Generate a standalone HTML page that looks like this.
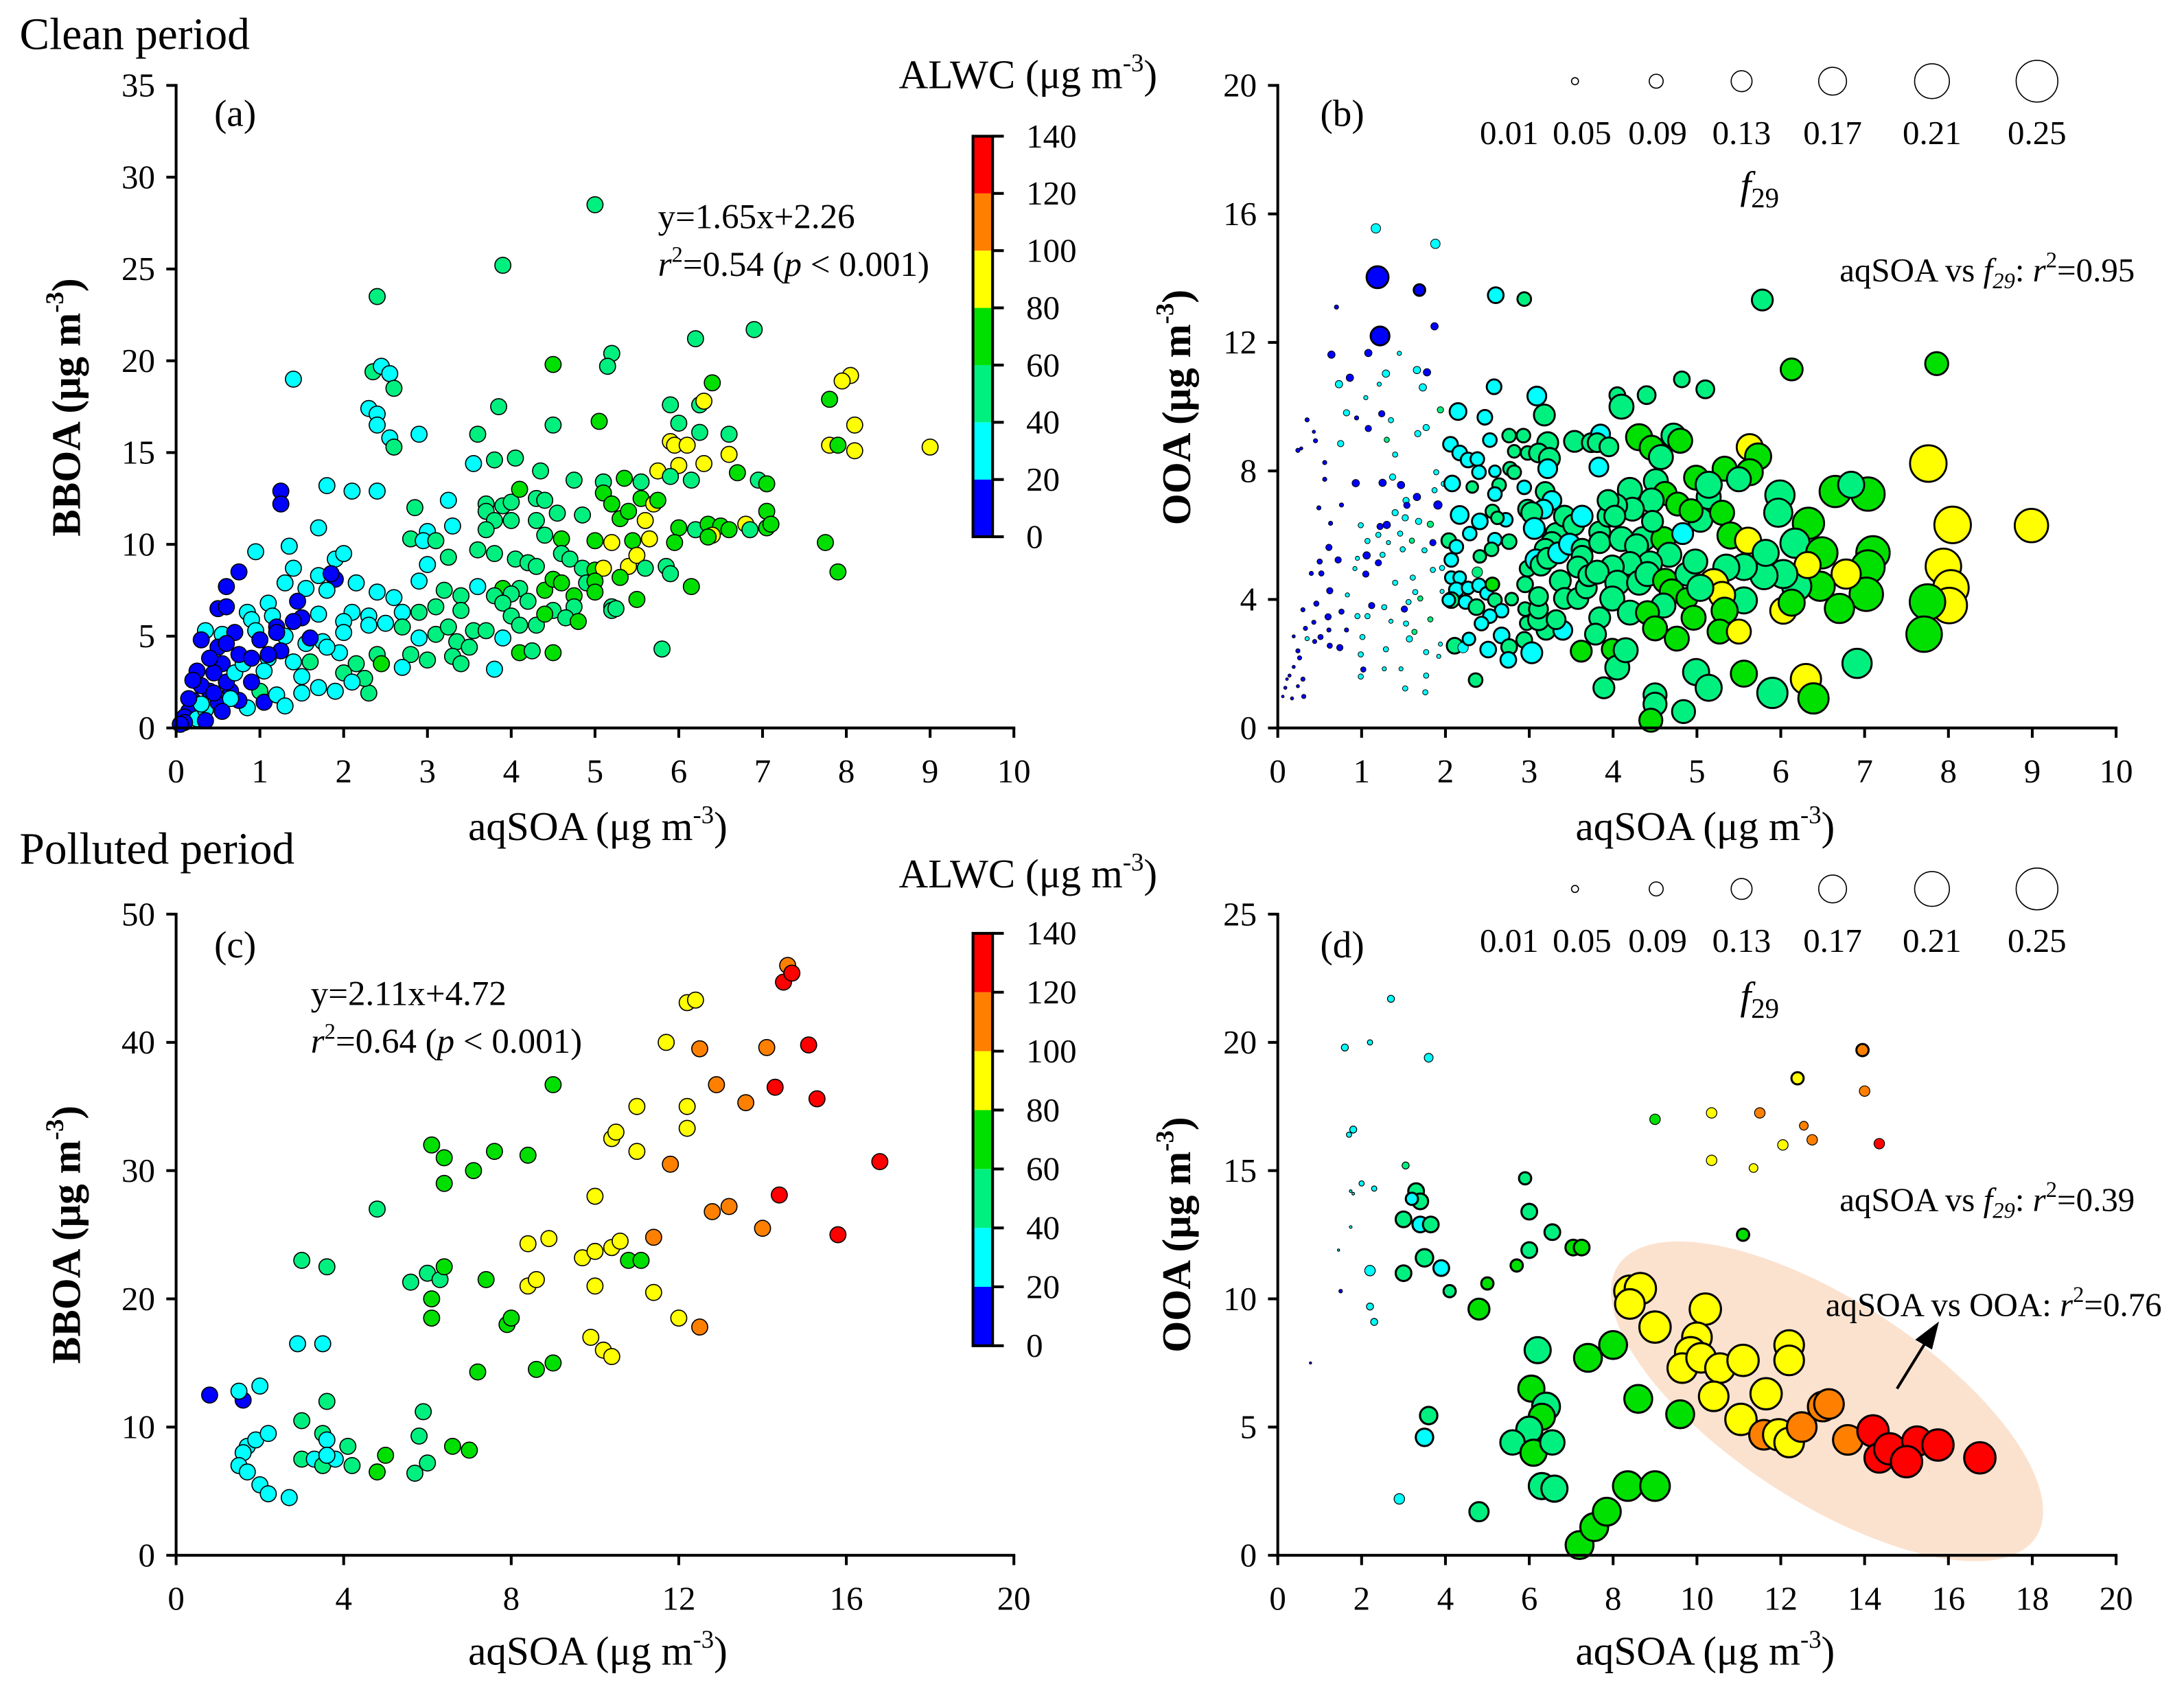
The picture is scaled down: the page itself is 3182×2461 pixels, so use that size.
<!DOCTYPE html>
<html><head><meta charset="utf-8">
<style>
html,body{margin:0;padding:0;background:#fff;}
svg{display:block;}
text{font-family:"Liberation Serif","Times New Roman",serif;fill:#000;}
</style></head>
<body>
<svg id="chart" xmlns="http://www.w3.org/2000/svg" width="3182" height="2461" viewBox="0 0 1560 1206.5" preserveAspectRatio="none">
<rect x="0" y="0" width="1560" height="1206.5" fill="#fff"/>
<text x="14" y="35" font-size="32">Clean period</text>
<text x="14" y="617" font-size="32">Polluted period</text>
<g id="layer"></g>
</svg>
<script>
// ---------- DATA ----------
const alwcBands = [0,20,40,60,80,100,120,140];
const bandColors = ['#0000ff','#00ffff','#00f080','#00e000','#ffff00','#ff8000','#ff0000'];
const f29LegendValues = [0.05,0.09,0.13,0.17,0.21,0.25];
const f29LegendLabels = ['0.01','0.05','0.09','0.13','0.17','0.21','0.25'];

const ticksA_x = [0,1,2,3,4,5,6,7,8,9,10];
const ticksA_y = [0,5,10,15,20,25,30,35];
const ticksB_x = [0,1,2,3,4,5,6,7,8,9,10];
const ticksB_y = [0,4,8,12,16,20];
const ticksC_x = [0,4,8,12,16,20];
const ticksC_y = [0,10,20,30,40,50];
const ticksD_x = [0,2,4,6,8,10,12,14,16,18,20];
const ticksD_y = [0,5,10,15,20,25];

// panel (a): [aqSOA, BBOA, ALWC]
const cleanBBOA = [[5.0,28.5,45],[3.9,25.2,50],[2.4,23.5,50],[6.9,21.7,50],[6.2,21.2,50],[5.2,20.4,50],[5.15,19.7,50],[4.5,19.8,65],[1.4,19.0,30],[2.35,19.4,45],[2.45,19.7,30],[2.55,19.3,30],[2.6,18.5,45],[6.4,18.8,60],[8.05,19.2,85],[7.95,18.9,85],[3.85,17.5,50],[2.3,17.4,30],[2.4,17.1,30],[5.9,17.6,50],[6.25,17.6,50],[6.3,17.8,85],[7.8,17.9,65],[2.4,16.5,30],[2.55,15.8,30],[2.6,15.3,45],[2.9,16.0,30],[3.6,16.0,50],[4.5,16.5,50],[5.05,16.7,65],[6.0,16.6,50],[6.6,16.0,50],[6.25,16.1,50],[8.1,16.5,85],[5.9,15.6,85],[5.95,15.4,85],[6.1,15.4,85],[7.8,15.4,85],[7.9,15.4,65],[8.1,15.1,85],[9.0,15.3,85],[6.6,14.9,85],[4.05,14.7,50],[3.8,14.6,50],[3.55,14.4,30],[6.0,14.3,85],[6.3,14.4,85],[6.7,13.9,65],[4.35,14.0,50],[5.75,14.0,85],[5.9,13.7,50],[6.15,13.5,50],[6.95,13.5,50],[7.05,13.3,65],[4.75,13.5,50],[5.1,13.4,50],[5.35,13.6,65],[5.55,13.4,50],[1.8,13.2,30],[2.1,12.9,30],[2.4,12.9,30],[1.25,12.9,10],[1.25,12.2,10],[3.25,12.4,30],[3.7,12.2,50],[3.9,12.1,50],[4.0,12.3,50],[4.1,13.0,65],[4.3,12.5,50],[4.4,12.4,50],[5.1,12.8,65],[5.2,12.2,65],[5.55,12.5,65],[5.7,12.2,85],[5.75,12.4,65],[2.85,12.0,50],[4.55,11.7,50],[4.85,11.6,50],[5.3,11.4,65],[5.6,11.3,85],[5.4,11.8,65],[3.7,11.8,50],[3.8,11.3,50],[4.0,11.3,50],[4.3,11.3,50],[1.7,10.9,30],[3.3,11.0,30],[3.7,10.8,50],[6.0,10.9,65],[6.2,10.8,50],[6.35,11.1,65],[6.5,11.0,65],[6.6,10.8,65],[6.8,11.1,85],[6.85,10.8,50],[7.05,11.8,65],[7.05,10.9,65],[7.1,11.1,65],[6.4,10.5,85],[6.35,10.4,65],[3.0,10.7,30],[2.8,10.3,50],[2.95,10.2,30],[3.1,10.2,50],[4.4,10.5,50],[4.6,10.3,65],[5.2,10.1,85],[5.45,10.2,65],[5.65,10.3,85],[5.0,10.2,65],[5.95,10.1,65],[7.75,10.1,65],[0.95,9.6,30],[1.35,9.9,30],[1.9,9.2,30],[2.0,9.5,30],[3.0,8.9,30],[3.25,9.3,50],[3.6,9.7,50],[3.8,9.5,50],[4.05,9.2,50],[4.2,9.0,50],[4.3,8.8,50],[4.6,9.5,50],[4.7,9.2,50],[4.85,8.7,50],[5.0,8.6,65],[5.1,8.7,85],[5.4,8.8,85],[5.5,9.4,85],[5.6,8.7,50],[5.85,8.8,50],[5.9,8.4,50],[7.9,8.5,65],[0.6,7.7,10],[0.75,8.5,10],[1.4,8.7,30],[1.7,8.3,30],[1.9,8.1,10],[1.85,8.4,10],[2.15,7.9,30],[3.9,7.6,65],[4.1,7.6,50],[4.4,7.5,65],[4.5,8.1,65],[4.6,7.9,65],[4.75,7.2,65],[4.9,7.9,50],[5.0,8.0,65],[5.0,7.4,65],[5.3,8.2,65],[5.5,7.0,65],[6.15,7.7,65],[5.2,6.6,50],[5.2,6.4,50],[5.25,6.5,50],[0.5,6.5,10],[0.6,6.6,10],[1.1,6.8,30],[1.3,7.9,30],[1.55,7.6,30],[1.8,7.5,30],[2.4,7.4,30],[2.6,7.1,30],[2.9,8.0,30],[3.2,7.5,50],[3.4,7.2,50],[3.6,7.7,30],[3.8,7.2,50],[4.0,7.3,50],[4.2,6.9,50],[4.5,6.4,50],[4.75,6.6,50],[4.65,6.0,50],[3.9,6.8,50],[3.4,6.4,50],[3.1,6.6,50],[2.9,6.3,50],[2.7,6.3,30],[2.3,6.1,30],[2.1,6.3,30],[2.0,5.8,30],[1.7,6.2,30],[1.5,6.0,10],[1.45,6.9,10],[1.15,6.1,30],[0.85,6.3,30],[0.9,5.9,30],[1.2,5.5,10],[0.95,5.3,30],[0.55,5.1,30],[0.35,5.3,30],[0.3,4.8,10],[0.7,5.2,10],[1.3,5.0,30],[1.55,4.6,30],[1.75,4.7,30],[2.0,5.2,30],[2.3,5.6,30],[2.5,5.7,30],[2.7,5.5,50],[2.9,4.9,30],[3.1,5.1,50],[3.25,5.5,50],[3.55,5.3,50],[3.35,4.7,50],[3.5,4.4,50],[3.7,5.3,50],[3.9,4.9,30],[4.0,6.1,50],[4.1,5.6,50],[4.3,5.6,50],[4.1,4.1,65],[4.25,4.2,50],[4.5,4.1,65],[4.8,5.8,65],[4.4,6.2,65],[5.8,4.3,50],[2.4,4.0,50],[2.45,3.5,65],[2.8,4.0,50],[3.0,3.7,50],[3.3,3.9,50],[3.4,3.5,50],[2.7,3.3,30],[3.8,3.2,30],[2.3,1.9,50],[2.25,2.7,50],[2.15,3.5,50],[2.0,3.0,50],[1.95,4.1,30],[1.8,4.4,30],[1.6,3.6,50],[1.5,2.8,30],[1.4,3.6,30],[1.25,4.2,10],[1.1,3.8,30],[1.05,3.1,30],[1.0,2.0,50],[0.85,1.1,30],[0.75,1.5,10],[0.65,2.0,10],[0.6,2.5,10],[0.55,3.5,10],[0.5,4.4,10],[0.45,3.0,10],[0.4,2.0,10],[0.3,2.3,10],[0.25,3.1,10],[0.2,1.5,10],[0.15,0.9,10],[0.1,0.6,10],[0.25,0.5,30],[0.35,1.0,30],[0.5,1.4,10],[0.65,1.6,30],[0.7,3.0,30],[0.8,3.5,30],[0.9,2.5,10],[1.05,1.4,10],[1.1,4.0,10],[1.2,1.8,30],[1.3,1.2,30],[1.5,1.9,30],[1.7,2.2,30],[1.9,2.0,30],[2.1,2.5,30],[0.4,3.8,10],[0.6,4.6,10],[0.75,4.0,10],[0.9,3.8,10],[1.0,4.8,10],[1.2,5.2,10],[1.4,5.8,10],[1.6,4.9,10],[0.2,2.6,10],[0.3,1.3,30],[0.45,1.9,10],[0.55,0.9,10],[0.1,0.3,10],[0.15,1.6,10],[0.05,0.2,10],[0.35,0.4,10]];

// panel (b): [aqSOA, OOA, ALWC, f29]
const cleanOOA = [[0.35,9.59,10,.03],[0.43,9.22,10,.025],[0.45,8.94,10,.03],[0.24,8.64,10,.03],[0.28,8.7,10,.025],[0.56,8.26,10,.03],[0.56,7.74,10,.03],[0.75,8.85,30,.04],[0.82,9.81,30,.04],[0.94,9.65,10,.03],[1.05,10.28,30,.03],[1.24,9.78,10,.04],[1.08,9.32,10,.04],[1.35,9.58,30,.035],[1.3,8.97,50,.035],[1.4,8.51,30,.035],[1.67,9.16,30,.04],[1.77,9.35,30,.04],[1.94,9.9,50,.04],[0.93,7.62,10,.045],[1.25,7.63,10,.045],[1.47,7.56,10,.045],[1.37,7.81,30,.04],[1.89,7.96,30,.035],[1.98,7.6,30,.035],[1.87,7.4,30,.035],[1.66,7.19,10,.045],[1.53,7.08,30,.04],[1.91,6.94,10,.05],[1.54,6.93,10,.04],[1.4,6.7,30,.04],[1.52,6.54,30,.04],[1.68,6.43,30,.04],[1.3,6.32,10,.045],[1.22,6.27,10,.04],[0.99,6.31,30,.035],[0.76,6.94,10,.03],[0.49,6.85,10,.03],[0.63,6.37,10,.03],[1.07,5.82,30,.035],[1.2,6.01,30,.035],[1.46,6.05,30,.035],[1.6,5.83,50,.035],[1.82,6.34,50,.04],[1.85,5.77,10,.04],[1.49,5.56,30,.035],[1.32,5.77,30,.03],[1.75,5.53,30,.035],[1.06,5.37,10,.045],[1.25,5.39,30,.035],[1.2,5.14,10,.04],[0.95,5.28,30,.03],[0.72,5.23,10,.04],[0.61,5.62,10,.04],[0.5,5.18,10,.035],[0.52,4.81,10,.035],[0.62,4.27,10,.04],[0.4,4.81,10,.03],[0.3,3.68,10,.03],[0.46,3.87,10,.035],[0.6,3.46,10,.04],[0.76,3.62,10,.035],[0.74,2.5,10,.04],[0.62,2.56,10,.035],[0.51,2.83,10,.035],[0.35,2.78,30,.03],[0.19,2.85,10,.025],[0.26,2.18,10,.03],[0.19,1.9,10,.025],[0.14,1.63,10,.025],[0.3,1.52,10,.03],[0.24,1.3,10,.025],[0.09,1.25,10,.025],[0.17,0.92,10,.025],[0.31,0.98,10,.03],[0.83,4.14,30,.03],[0.92,4.96,30,.03],[1.05,4.79,10,.04],[0.95,3.48,30,.035],[1.01,2.83,30,.035],[0.99,2.29,30,.035],[0.99,1.6,30,.035],[1.02,1.82,10,.035],[1.12,3.81,10,.04],[1.07,3.48,30,.035],[1.27,3.76,30,.035],[1.35,3.32,30,.03],[1.29,2.45,30,.035],[1.4,4.52,30,.035],[1.51,3.7,10,.04],[1.56,3.92,30,.035],[1.53,3.25,30,.035],[1.57,2.77,30,.04],[1.63,2.99,50,.035],[1.7,4.03,50,.035],[1.64,4.23,30,.035],[1.61,4.68,30,.035],[1.77,2.36,30,.035],[1.77,1.63,30,.035],[1.76,1.11,30,.035],[1.52,1.23,30,.035],[1.47,1.84,30,.03],[1.27,1.84,30,.03],[1.82,3.38,50,.035],[1.85,4.92,30,.035],[1.96,4.98,30,.035],[1.96,4.25,30,.03],[1.94,2.61,30,.03],[1.92,2.23,30,.03],[0.82,3.05,10,.03],[0.61,3.05,10,.03],[0.44,2.69,10,.03],[0.43,3.29,10,.03],[0.33,3.1,10,.03],[0.24,2.4,10,.03],[0.11,1.52,10,.02],[0.06,0.98,10,.02],
[1.17,15.55,30,.055],[1.88,15.07,30,.055],[1.19,14.03,10,.115],[1.69,13.63,10,.065],[1.22,12.2,10,.1],[1.87,12.5,10,.045],[2.6,13.47,30,.085],[2.94,13.35,50,.075],[5.78,13.32,50,.11],[0.7,13.1,10,.03],[0.64,11.62,10,.045],[1.08,11.67,10,.045],[1.45,11.66,30,.03],[6.13,11.16,65,.115],[7.86,11.34,65,.12],[0.86,10.9,10,.045],[1.29,11.03,30,.045],[1.66,11.14,30,.045],[1.78,11.07,10,.045],[0.73,10.7,30,.045],[1.73,10.6,30,.045],[1.21,10.7,30,.03],[2.58,10.62,30,.08],[3.09,10.33,30,.1],[3.18,9.74,50,.11],[2.15,9.85,30,.09],[2.47,9.67,30,.08],
[2.06,8.83,30,.08],[2.17,8.56,30,.08],[2.27,8.34,30,.08],[2.38,8.37,30,.075],[2.53,8.96,30,.075],[2.76,9.1,50,.075],[2.93,9.1,50,.075],[2.82,8.61,50,.07],[2.98,8.56,50,.075],[2.77,8.07,50,.075],[2.82,7.96,50,.075],[2.59,7.99,30,.065],[2.4,7.96,30,.075],[2.08,7.61,30,.085],[2.32,7.5,50,.065],[2.64,7.56,50,.075],[2.59,7.28,30,.075],[2.94,7.49,30,.075],[2.17,6.63,30,.095],[2.41,6.43,30,.085],[2.56,6.74,50,.075],[2.72,6.48,30,.075],[2.62,6.54,50,.07],[2.29,6.05,30,.075],[2.76,5.8,50,.08],[2.59,5.86,30,.075],[2.55,5.56,50,.075],[2.04,5.83,50,.08],[2.13,5.64,30,.075],[2.07,5.23,30,.075],[2.41,5.34,50,.07],[2.07,4.68,30,.07],[2.17,4.68,30,.07],[2.13,4.3,30,.08],[2.27,4.36,30,.07],[2.4,4.44,30,.075],[2.49,4.19,30,.07],[2.38,4.85,50,.06],[2.56,4.47,65,.075],[2.07,3.98,50,.085],[2.04,3.98,30,.07],[2.24,3.92,30,.075],[2.37,3.76,50,.085],[2.59,3.98,50,.075],[2.79,4.01,50,.07],[2.67,3.65,30,.075],[2.53,3.48,30,.075],[2.43,3.25,30,.075],[2.11,2.56,50,.085],[2.21,2.5,30,.06],[2.28,2.77,30,.07],[2.36,1.49,50,.075],[2.51,2.44,30,.085],[2.67,2.88,30,.085],[2.76,2.52,50,.085],[2.75,2.12,30,.085],[2.94,2.74,50,.085],[3.03,2.34,30,.11],[2.97,3.26,50,.075],[3.2,3.04,50,.1],[3.4,3.04,30,.1],[3.11,3.37,50,.11],[3.32,3.37,50,.1],[2.95,3.7,50,.075],[3.11,3.7,50,.1],[3.11,4.09,50,.1],[2.95,4.47,50,.085],[2.98,4.96,50,.085],
[3.22,8.88,50,.11],[3.11,8.56,50,.1],[3.24,8.39,50,.11],[3.22,8.07,30,.1],[3.54,8.92,50,.11],[3.74,8.88,50,.1],[3.85,9.15,30,.1],[3.81,8.88,50,.1],[3.95,8.75,50,.1],[3.83,8.12,30,.1],[3.19,7.36,50,.1],[3.27,7.08,30,.1],[3.17,6.81,30,.1],[2.98,6.81,50,.1],[3.03,6.7,50,.11],[3.06,6.21,30,.11],[3.32,6.05,50,.11],[3.27,5.77,50,.11],[3.19,5.56,50,.11],[3.08,5.23,30,.11],[3.14,5.07,50,.11],[3.22,5.28,50,.11],[3.35,5.45,30,.11],[3.42,6.59,50,.11],[3.53,6.32,50,.11],[3.63,6.59,30,.11],[3.84,6.1,50,.11],[3.94,6.59,50,.11],[3.48,5.72,30,.11],[3.63,5.56,50,.11],[3.84,5.77,50,.11],[3.63,5.34,50,.11],[3.58,5.01,50,.11],[3.37,4.58,50,.11],[3.42,4.03,50,.11],[3.58,4.03,50,.11],[3.68,4.36,50,.11],[3.71,4.74,50,.11],[3.84,3.43,50,.11],[3.62,2.39,65,.11],[3.79,2.92,50,.11],[3.99,2.45,65,.11],[3.89,1.25,50,.11],
[4.2,7.41,50,.125],[4.31,9.05,65,.135],[4.46,8.72,65,.125],[4.57,8.43,50,.125],[4.72,9.1,50,.125],[4.8,8.94,65,.125],[4.51,7.68,50,.125],[4.62,7.3,65,.12],[4.77,6.97,65,.12],[4.46,7.08,50,.125],[4.23,6.81,50,.12],[4.03,6.92,50,.12],[3.94,7.08,50,.11],[4.02,6.59,50,.11],[4.1,5.88,50,.125],[4.36,5.88,50,.125],[4.6,5.88,65,.125],[4.83,6.05,30,.11],[5.04,6.48,50,.125],[5.14,7.19,50,.125],[5.3,6.7,65,.125],[4.93,6.76,65,.12],[4.47,6.43,50,.11],[4.28,5.67,50,.12],[4.67,5.39,50,.125],[4.44,5.12,50,.125],[4.2,5.12,50,.12],[3.99,5.01,50,.12],[3.81,4.85,50,.12],[4.05,4.52,50,.125],[4.31,4.52,50,.125],[4.41,4.79,50,.125],[4.62,4.58,65,.125],[4.88,4.79,50,.12],[4.98,5.18,50,.125],[4.7,4.25,65,.125],[4.6,3.81,50,.125],[3.99,4.03,50,.125],[4.2,3.59,50,.125],[4.41,3.59,65,.12],[4.88,4.03,65,.11],
[4.82,10.85,50,.085],[5.1,10.54,50,.095],[4.4,10.36,50,.095],[4.05,10.36,50,.085],[4.1,10.0,50,.125],[5.63,8.74,85,.135],[5.73,8.45,65,.135],[5.33,8.07,65,.125],[5.63,7.96,65,.135],[5.5,7.74,50,.125],[4.99,7.79,65,.125],[5.14,7.57,50,.135],[6.65,7.36,65,.16],[7.04,7.28,65,.17],[6.84,7.57,50,.135],[5.99,7.25,50,.15],[5.97,6.7,50,.145],[6.33,6.37,65,.16],[6.17,5.75,50,.15],[6.49,5.45,65,.16],[7.1,5.45,65,.17],[7.04,5.01,65,.17],[7.02,4.16,65,.17],[6.78,4.79,85,.15],[6.7,3.72,65,.15],[6.47,4.41,65,.15],[6.19,4.41,50,.15],[6.32,5.07,85,.135],[6.03,4.79,50,.145],[5.8,4.74,50,.14],[5.56,3.97,50,.135],[5.4,5.99,65,.135],[5.61,5.83,85,.135],[5.82,5.45,50,.135],[5.56,5.01,50,.135],[5.35,4.99,50,.135],[5.2,4.49,85,.15],[5.3,4.14,85,.135],[6.03,3.65,85,.135],[6.13,3.9,65,.135],[5.33,3.65,65,.135],[5.04,4.36,50,.135],[4.96,3.43,65,.125],[5.27,3.0,65,.125],[5.5,3.0,85,.125],[6.91,2.01,50,.15],[5.56,1.69,65,.135],[6.3,1.52,85,.155],[6.39,0.92,65,.155],[5.9,1.09,50,.155],[4.99,1.74,50,.135],[5.14,1.25,50,.135],[4.84,0.51,50,.12],[4.5,1.03,50,.12],[4.5,0.74,50,.12],[4.45,0.24,65,.12],[4.76,2.78,65,.125],[4.5,3.1,65,.125],[4.05,1.88,50,.125],[4.15,2.42,50,.125],
[7.76,8.23,85,.185],[8.05,6.32,85,.185],[7.94,5.03,85,.18],[8.03,4.36,85,.18],[8.01,3.81,85,.18],[7.75,3.92,65,.18],[7.71,2.92,65,.18],[8.99,6.3,85,.17]];

// panel (c): [aqSOA, BBOA, ALWC]
const pollutedBBOA = [[0.8,12.5,10],[1.6,12.1,10],[1.5,12.8,30],[2.0,13.2,30],[1.7,8.5,30],[1.6,8.0,30],[1.5,7.0,30],[1.7,6.5,30],[1.9,9.0,30],[2.0,5.5,30],[2.2,4.8,30],[2.7,4.5,30],[2.2,9.5,30],[3.0,23.0,50],[2.9,16.5,30],[3.5,16.5,30],[3.6,22.5,50],[3.6,12.0,50],[3.0,10.5,50],[3.5,9.5,50],[3.6,9.0,30],[3.0,7.5,50],[3.3,7.5,30],[3.5,7.0,50],[3.8,7.5,30],[3.6,7.8,30],[4.1,8.5,50],[4.8,27.0,50],[4.2,7.0,50],[5.0,7.8,65],[4.8,6.5,65],[5.6,21.3,50],[6.0,22.0,50],[6.1,20.0,65],[6.1,18.5,65],[6.3,21.5,50],[6.4,22.5,65],[6.1,32.0,65],[6.4,31.0,65],[6.4,29.0,65],[5.9,11.2,50],[5.8,9.3,50],[6.0,7.2,50],[5.7,6.4,50],[6.6,8.5,65],[7.0,8.2,65],[7.2,14.3,65],[7.1,30.0,65],[7.4,21.5,65],[7.6,31.5,65],[7.9,18.0,65],[8.0,18.5,65],[8.4,31.2,65],[8.6,14.5,65],[9.0,15.0,65],[9.0,36.7,65],[8.4,24.3,85],[8.4,21.0,85],[8.6,21.5,85],[8.9,24.7,85],[9.9,17.0,85],[10.0,28.0,85],[10.0,21.0,85],[9.7,23.2,85],[10.0,23.7,85],[10.2,16.0,85],[10.4,15.5,85],[10.4,32.5,85],[10.5,33.0,85],[10.4,24.0,85],[10.8,23.0,65],[10.6,24.5,85],[11.0,31.5,85],[11.0,35.0,85],[11.1,23.0,65],[11.4,20.5,85],[11.8,30.5,110],[11.4,24.8,110],[12.0,18.5,85],[12.2,33.3,85],[12.2,35.0,85],[11.7,40.0,85],[12.2,43.1,85],[12.4,43.3,85],[12.5,39.5,110],[12.5,17.8,110],[12.8,26.8,110],[12.9,36.7,110],[13.2,27.2,110],[13.6,35.3,110],[14.0,25.5,110],[14.1,39.6,110],[14.3,36.5,130],[14.4,28.1,130],[14.5,44.7,130],[14.6,46.0,110],[14.7,45.4,130],[15.1,39.8,130],[15.3,35.6,130],[15.8,25.0,130],[16.8,30.7,130]];

// panel (d): [aqSOA, OOA, ALWC, f29]
const pollutedOOA = [[0.78,7.5,10,.02],[1.5,10.3,10,.03],[1.45,11.9,30,.02],[1.74,12.8,30,.025],[1.6,19.8,30,.05],[2.2,20.0,30,.04],[2.7,21.7,30,.05],[3.6,19.4,30,.06],[1.7,16.4,30,.04],[1.8,16.6,30,.05],[1.74,14.2,30,.025],[2.0,14.5,30,.04],[2.3,14.3,30,.04],[1.8,14.1,30,.025],[2.2,11.1,30,.07],[2.2,9.7,30,.05],[2.3,9.1,30,.05],[2.9,2.2,30,.07],[3.05,15.2,50,.05],[3.3,14.2,50,.1],[3.4,13.8,50,.1],[3.2,13.9,30,.08],[3.0,13.1,50,.1],[3.4,12.9,30,.1],[3.65,12.9,50,.1],[3.0,11.0,50,.1],[3.5,11.6,50,.11],[3.9,11.2,30,.1],[4.1,10.3,50,.08],[3.6,5.45,50,.11],[3.5,4.6,30,.11],[4.8,9.6,65,.13],[5.0,10.6,65,.08],[4.8,1.7,50,.12],[5.9,14.7,50,.08],[6.0,13.4,50,.1],[6.0,11.9,50,.1],[5.7,11.3,65,.08],[6.55,12.6,50,.1],[7.05,12.0,65,.1],[7.25,12.0,65,.1],[9.0,17.0,65,.07],[11.1,12.5,65,.08],[6.2,8.0,50,.16],[6.05,6.5,65,.16],[6.4,5.8,50,.17],[6.3,5.4,65,.16],[6.0,4.9,50,.16],[5.6,4.4,50,.15],[6.1,4.0,65,.16],[6.55,4.4,50,.15],[6.3,2.7,50,.16],[6.6,2.6,50,.16],[7.4,7.7,65,.17],[8.0,8.2,65,.17],[8.6,6.1,65,.17],[9.6,5.5,65,.17],[7.2,0.4,65,.17],[7.55,1.1,65,.17],[7.85,1.7,65,.17],[8.35,2.7,65,.18],[9.0,2.7,65,.18],[8.4,10.3,85,.19],[8.65,10.4,85,.19],[8.4,9.8,85,.18],[9.0,8.9,85,.19],[10.2,9.6,85,.19],[10.0,8.5,85,.18],[9.85,7.9,85,.19],[9.65,7.3,85,.18],[10.1,7.7,85,.18],[10.55,7.3,85,.18],[11.1,7.6,85,.19],[10.4,6.2,85,.18],[11.65,6.3,85,.19],[11.05,5.3,85,.19],[12.2,8.2,85,.18],[12.2,7.6,85,.18],[11.6,4.7,110,.18],[11.95,4.7,85,.19],[12.2,4.4,85,.18],[12.5,5.0,110,.18],[13.0,5.8,110,.18],[13.15,5.9,110,.18],[13.6,4.5,110,.18],[14.2,4.85,130,.19],[14.35,3.8,130,.18],[14.6,4.15,130,.19],[15.25,4.45,130,.18],[15.0,3.65,130,.19],[15.75,4.3,130,.19],[16.75,3.8,130,.19],[10.35,17.25,85,.07],[10.35,15.4,85,.07],[11.35,15.1,85,.06],[11.5,17.25,110,.07],[12.4,18.6,85,.08],[12.05,16.0,85,.07],[12.55,16.75,110,.06],[12.75,16.2,110,.07],[13.95,19.7,110,.08],[14.0,18.1,110,.07],[14.35,16.05,130,.07]];

// ---------- DRAWING ----------
const NS = 'http://www.w3.org/2000/svg';
const layer = document.getElementById('layer');
function el(tag, attrs, parent, txt){
  const e = document.createElementNS(NS, tag);
  for (const k in attrs) e.setAttribute(k, attrs[k]);
  if (txt !== undefined) e.textContent = txt;
  (parent || layer).appendChild(e);
  return e;
}
function colorOf(v){
  let i = Math.floor(v/20); if (i<0) i=0; if (i>6) i=6;
  return bandColors[i];
}
function radiusOf(f){ return Math.max(0.8, 62*f - 0.6); }
function axis(px0, px1, v0, v1){ return v => px0 + (v - v0)/(v1 - v0)*(px1 - px0); }

const PX = {L0:125.8, L1:724.2, R0:912.7, R1:1511.5, T0:520, T1:61, B0:1111, B1:653};

function drawAxes(g, xs, ys, ticksX, ticksY, xTitle, yTitle, xTitleX, yTitleY, yTitleX, xTitleY, tickLabelY){
  const x0 = xs(ticksX[0]), x1 = xs(ticksX[ticksX.length-1]);
  const y0 = ys(ticksY[0]), y1 = ys(ticksY[ticksY.length-1]);
  const xl = el('line',{x1:x0-1,y1:y0,x2:x1+1,y2:y0,stroke:'#000','stroke-width':2},g);
   
  const yl = el('line',{x1:x0,y1:y0+1,x2:x0,y2:y1-1,stroke:'#000','stroke-width':2},g);
   
  ticksX.forEach(t=>{
    el('line',{x1:xs(t),y1:y0,x2:xs(t),y2:y0+7,stroke:'#000','stroke-width':2},g);
    const tl = el('text',{x:xs(t),y:tickLabelY,'font-size':24,'text-anchor':'middle'},g,String(t));
     
  });
  ticksY.forEach(t=>{
    el('line',{x1:x0-7,y1:ys(t),x2:x0,y2:ys(t),stroke:'#000','stroke-width':2},g);
    const tl = el('text',{x:x0-15,y:ys(t)+8,'font-size':24,'text-anchor':'end'},g,String(t));
     
  });
  const xt = el('text',{x:xTitleX,y:xTitleY,'font-size':29,'text-anchor':'middle'},g);
   
  xt.innerHTML = xTitle + ' (μg m<tspan dy="-12" font-size="18">-3</tspan><tspan dy="12">)</tspan>';
  const yt = el('text',{x:0,y:0,'font-size':29,'font-weight':'bold','text-anchor':'middle',transform:'translate('+yTitleX+','+yTitleY+') rotate(-90)'},g);
   
  yt.innerHTML = yTitle + ' (μg m<tspan dy="-12" font-size="18" font-weight="bold">-3</tspan><tspan dy="12">)</tspan>';
}

function drawColorbar(g, top, bottom, labelY){
  const x = 695, w = 14;
  const cb = axis(bottom, top, 0, 140);
  for (let i=0;i<bandColors.length;i++){
    const r = el('rect',{x:x,y:cb(alwcBands[i+1]),width:w,height:cb(alwcBands[i])-cb(alwcBands[i+1]),fill:bandColors[i]},g);
     
  }
  el('rect',{x:x,y:top,width:w,height:bottom-top,fill:'none',stroke:'#000','stroke-width':2},g);
  alwcBands.forEach(v=>{
    el('line',{x1:x+w,y1:cb(v),x2:x+w+8,y2:cb(v),stroke:'#000','stroke-width':2},g);
    const t = el('text',{x:733,y:cb(v)+8,'font-size':24},g,String(v));
     
  });
  const lab = el('text',{x:642,y:labelY,'font-size':29},g);
   
  lab.innerHTML = 'ALWC (μg m<tspan dy="-12" font-size="18">-3</tspan><tspan dy="12">)</tspan>';
}

function drawSizeLegend(g, cy, labelY, f29Y){
  const cx = [1125,1183,1244,1309,1380,1455];
  f29LegendValues.forEach((f,i)=>{
    const c = el('circle',{cx:cx[i],cy:cy,r:radiusOf(f),fill:'#fff',stroke:'#000','stroke-width':0.8},g);
     
  });
  const lx = [1078,1130,1184,1244,1309,1380,1455];
  f29LegendLabels.forEach((s,i)=>{
    const t = el('text',{x:lx[i],y:labelY,'font-size':24,'text-anchor':'middle'},g,s);
     
  });
  const f = el('text',{x:1243,y:f29Y,'font-size':28},g);
   
  f.innerHTML = '<tspan font-style="italic">f</tspan><tspan dy="6" font-size="20">29</tspan>';
}

// Panel (a)
{
  const g = el('g',{});  
  const xs = axis(PX.L0, PX.L1, 0, 10), ys = axis(PX.T0, PX.T1, 0, 35);
  cleanBBOA.forEach(p=>{
    const c = el('circle',{cx:xs(p[0]),cy:ys(p[1]),r:5.7,fill:colorOf(p[2]),stroke:'#000','stroke-width':0.8},g);
     
  });
  drawAxes(g, xs, ys, ticksA_x, ticksA_y, 'aqSOA', 'BBOA', 427, 291, 57, 600, 559);
  const lab = el('text',{x:153,y:90,'font-size':27},g,'(a)');  
  const e1 = el('text',{x:470,y:163,'font-size':25},g,'y=1.65x+2.26');  
  const e2 = el('text',{x:470,y:197,'font-size':25},g);  
  e2.innerHTML = '<tspan font-style="italic">r</tspan><tspan dy="-10" font-size="16">2</tspan><tspan dy="10">=0.54 (</tspan><tspan font-style="italic">p</tspan> &lt; 0.001)';
  drawColorbar(g, 97.3, 383.4, 63);
}
// Panel (b)
{
  const g = el('g',{});  
  const xs = axis(PX.R0, PX.R1, 0, 10), ys = axis(PX.T0, PX.T1, 0, 20);
  cleanOOA.forEach(p=>{
    const r = radiusOf(p[3]) * 1.2;
    const c = el('circle',{cx:xs(p[0]),cy:ys(p[1]),r:r,fill:colorOf(p[2]),stroke:'#000','stroke-width':r>4?1.4:0.5},g);
     
  });
  drawAxes(g, xs, ys, ticksB_x, ticksB_y, 'aqSOA', 'OOA', 1218, 291, 850, 600, 559);
  const lab = el('text',{x:943,y:90,'font-size':27},g,'(b)');  
  drawSizeLegend(g, 58, 103, 142);
  const a = el('text',{x:1314,y:201,'font-size':24},g);  
  a.innerHTML = 'aqSOA vs <tspan font-style="italic">f</tspan><tspan dy="5" font-size="16" font-style="italic">29</tspan><tspan dy="-5">: </tspan><tspan font-style="italic">r</tspan><tspan dy="-10" font-size="16">2</tspan><tspan dy="10">=0.95</tspan>';
}
// Panel (c)
{
  const g = el('g',{});  
  const xs = axis(PX.L0, PX.L1, 0, 20), ys = axis(PX.B0, PX.B1, 0, 50);
  pollutedBBOA.forEach(p=>{
    const c = el('circle',{cx:xs(p[0]),cy:ys(p[1]),r:5.7,fill:colorOf(p[2]),stroke:'#000','stroke-width':0.8},g);
     
  });
  drawAxes(g, xs, ys, ticksC_x, ticksC_y, 'aqSOA', 'BBOA', 427, 882, 57, 1189, 1150);
  const lab = el('text',{x:153,y:684,'font-size':27},g,'(c)');  
  const e1 = el('text',{x:222,y:718,'font-size':25},g,'y=2.11x+4.72');  
  const e2 = el('text',{x:222,y:752,'font-size':25},g);  
  e2.innerHTML = '<tspan font-style="italic">r</tspan><tspan dy="-10" font-size="16">2</tspan><tspan dy="10">=0.64 (</tspan><tspan font-style="italic">p</tspan> &lt; 0.001)';
  drawColorbar(g, 666.7, 961.3, 634);
}
// Panel (d)
{
  const g = el('g',{});  
  const xs = axis(PX.R0, PX.R1, 0, 20), ys = axis(PX.B0, PX.B1, 0, 25);
  const ell = el('ellipse',{cx:1305,cy:1001,rx:178,ry:72,fill:'#fbe2cf',transform:'rotate(33 1305 1001)'},g);
   
  pollutedOOA.forEach(p=>{
    const r = radiusOf(p[3]);
    const c = el('circle',{cx:xs(p[0]),cy:ys(p[1]),r:r,fill:colorOf(p[2]),stroke:'#000','stroke-width':r>4?1.5:0.6},g);
     
  });
  drawAxes(g, xs, ys, ticksD_x, ticksD_y, 'aqSOA', 'OOA', 1218, 882, 850, 1189, 1150);
  const lab = el('text',{x:943,y:684,'font-size':27},g,'(d)');  
  drawSizeLegend(g, 635, 680, 721);
  const a = el('text',{x:1314,y:865,'font-size':24},g);  
  a.innerHTML = 'aqSOA vs <tspan font-style="italic">f</tspan><tspan dy="5" font-size="16" font-style="italic">29</tspan><tspan dy="-5">: </tspan><tspan font-style="italic">r</tspan><tspan dy="-10" font-size="16">2</tspan><tspan dy="10">=0.39</tspan>';
  const b = el('text',{x:1304,y:940,'font-size':24},g);  
  b.innerHTML = 'aqSOA vs OOA: <tspan font-style="italic">r</tspan><tspan dy="-10" font-size="16">2</tspan><tspan dy="10">=0.76</tspan>';
  const ar = el('line',{x1:1355,y1:992,x2:1376,y2:958,stroke:'#000','stroke-width':2},g);
   
  const ah = el('polygon',{points:'1385,944 1368,957 1380,964',fill:'#000'},g);
   
}
</script>
</body></html>
